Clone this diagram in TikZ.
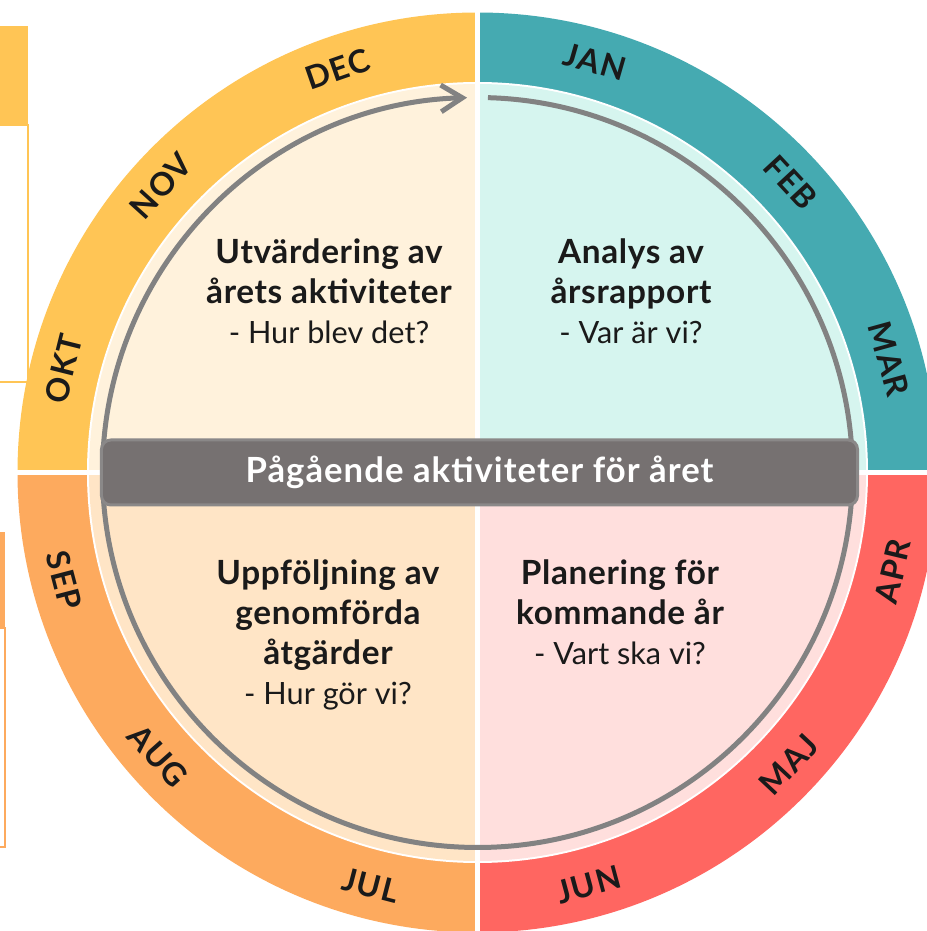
\documentclass[tikz,border=0pt]{standalone}
\usepackage{fontspec}
\setmainfont{Lato}
\usetikzlibrary{arrows.meta}

\definecolor{ringwinter}{HTML}{FFC555}
\definecolor{ringspring}{HTML}{45AAB1}
\definecolor{ringsummer}{HTML}{FF6661}
\definecolor{ringautumn}{HTML}{FDAA5E}
\definecolor{fillwinter}{HTML}{FFF2DC}
\definecolor{fillspring}{HTML}{D6F5EF}
\definecolor{fillsummer}{HTML}{FFDFDD}
\definecolor{fillautumn}{HTML}{FFE5C6}
\definecolor{arrowgray}{HTML}{828282}
\definecolor{bannergray}{HTML}{767171}
\definecolor{bannerline}{HTML}{8A8888}
\definecolor{textdark}{HTML}{1A1A1A}

\newcommand\qhead[1]{{\bfseries\fontsize{25}{30}\selectfont\addfontfeatures{LetterSpace=2}#1}}

\begin{document}
\begin{tikzpicture}[x=0.75pt, y=0.75pt,
  monthlabel/.style={font=\bfseries\fontsize{24}{28}\selectfont\addfontfeatures{LetterSpace=4}, text=textdark, inner sep=0pt},
  quarter/.style={align=center, font=\fontsize{23}{30}\selectfont, text=textdark},
  banner/.style={fill=bannergray, draw=bannerline, line width=2.25pt, rounded corners=7pt,
    minimum width=567pt, minimum height=48.75pt, text=white,
    font=\bfseries\fontsize{26}{30}\selectfont\addfontfeatures{LetterSpace=3}}]

\def\R{460}
\def\Ri{390.5}
\def\Rd{388.5}
\def\Ra{375}
\def\Rm{427}

\path [use as bounding box] (-477.5,-458.5) rectangle (449.5,472.5);

% SIDE BOXES
\fill [ringwinter] (-480,446.5) rectangle (-449.5,347.5);
\draw [line width=1.5pt, ringwinter] (-480,347.5) rectangle (-449.5,90.5);
\fill [ringautumn] (-480,-59.5) rectangle (-472.5,-155.5);
\draw [line width=1.5pt, ringautumn] (-480,-155.5) rectangle (-472.5,-374.5);

% RING
\fill [ringspring] (0,0) -- (90:\R) arc[start angle=90, end angle=0, radius=\R] -- cycle;
\fill [ringsummer] (0,0) -- (0:\R) arc[start angle=0, end angle=-90, radius=\R] -- cycle;
\fill [ringautumn] (0,0) -- (-90:\R) arc[start angle=-90, end angle=-180, radius=\R] -- cycle;
\fill [ringwinter] (0,0) -- (180:\R) arc[start angle=180, end angle=90, radius=\R] -- cycle;

% DISK
\fill [white] (0,0) circle[radius=\Ri];
\fill [fillspring] (0,0) -- (90:\Rd) arc[start angle=90, end angle=0, radius=\Rd] -- cycle;
\fill [fillsummer] (0,0) -- (0:\Rd) arc[start angle=0, end angle=-90, radius=\Rd] -- cycle;
\fill [fillautumn] (0,0) -- (-90:\Rd) arc[start angle=-90, end angle=-180, radius=\Rd] -- cycle;
\fill [fillwinter] (0,0) -- (180:\Rd) arc[start angle=180, end angle=90, radius=\Rd] -- cycle;

% GAPS
\draw [line width=3.75pt, white] (-470,0) -- (470,0);
\draw [line width=3.75pt, white] (0,-470) -- (0,475);

% CYCLE
\draw [line width=3.75pt, arrowgray, -{Straight Barb[length=16pt, width=20pt]}]
  (88.4:\Ra) arc[start angle=88.4, end angle=-268.4, radius=\Ra];

% MONTHS
\foreach \m/\a/\r in {JAN/74/-16, FEB/42.8/-47.2, MAR/15.4/-74.6, APR/-13.4/76.6,
  MAJ/-43.2/46.8, JUN/-74.9/15.1, JUL/-104.5/-14.5, AUG/-138.4/-48.4,
  SEP/-165.4/-75.4, OKT/165.9/75.9, NOV/137.8/47.8, DEC/109.1/19.1}
  \node (\m) [monthlabel, rotate=\r] at (\a:\Rm) {\m};

% QUARTERS
\node (utvardering) [quarter] at (-148.5,181.5) {\qhead{Utvärdering av}\\\qhead{årets aktiviteter}\\- Hur blev det?};
\node (analys) [quarter] at (153.5,181.5) {\qhead{Analys av}\\\qhead{årsrapport}\\- Var är vi?};
\node (planering) [quarter] at (142.5,-140) {\qhead{Planering för}\\\qhead{kommande år}\\- Vart ska vi?};
\node (uppfoljning) [quarter] at (-149.5,-162) {\qhead{Uppföljning av}\\\qhead{genomförda}\\\qhead{åtgärder}\\- Hur gör vi?};

% BANNER
\node (pagaende) [banner] at (2,0) {Pågående aktiviteter för året};

\end{tikzpicture}
\end{document}
